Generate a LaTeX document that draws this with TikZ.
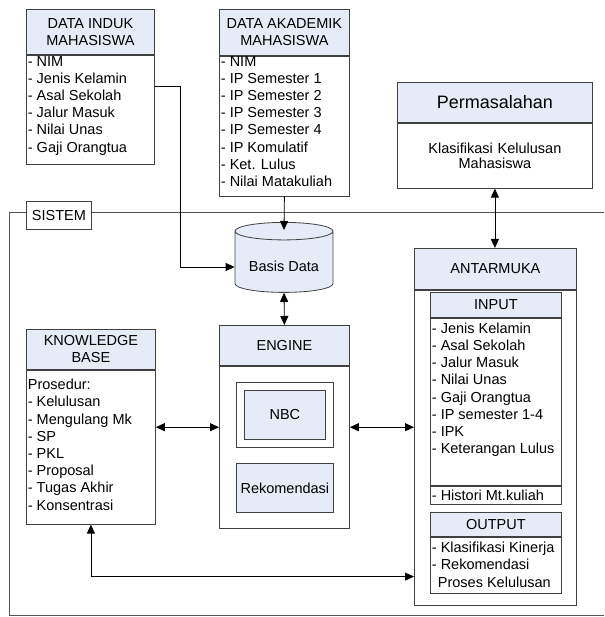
\documentclass[tikz,border=0pt]{standalone}
\usepackage{fontspec}
\setmainfont{Liberation Sans}
\usetikzlibrary{shapes,arrows.meta,positioning,calc}
\definecolor{hdrblue}{RGB}{230,236,247}
\definecolor{boxgray}{RGB}{64,64,64}
\definecolor{linegray}{RGB}{85,85,85}
\newcommand{\boxlist}[4]{\parbox[t][#1][t]{#2}{\vspace*{#3}#4}}
\tikzset{
  hdr/.style={draw=boxgray,fill=hdrblue,align=center,inner sep=0pt,anchor=north west,line width=0.8pt},
  lst/.style={draw=boxgray,fill=white,inner xsep=1.5pt,inner ysep=0pt,anchor=north west,line width=0.8pt},
  conn/.style={-{Triangle[length=9pt,width=8pt]},line width=0.8pt},
  dconn/.style={{Triangle[length=9pt,width=8pt]}-{Triangle[length=9pt,width=8pt]},line width=0.8pt},
  sysline/.style={draw=linegray,line width=0.8pt}
}
\begin{document}
\begin{tikzpicture}[x=1pt,y=-1pt,font=\fontsize{14.5pt}{17.2pt}\selectfont]
\useasboundingbox (0,0) rectangle (604,617);
% batas sistem
\draw[sysline] (604,212) -- (9,212) -- (9,615) -- (604,615);
\node[lst,inner sep=0pt,minimum width=65pt,minimum height=28pt] (sistem) at (26,201) {SISTEM};
% sumber data
\node[hdr,minimum width=128pt,minimum height=45pt] (diHead) at (26,9) {DATA INDUK\\MAHASISWA};
\node[lst] (diBody) at (diHead.south west) {\boxlist{109pt}{125pt}{1pt}{- NIM\\- Jenis Kelamin\\- Asal Sekolah\\- Jalur Masuk\\- Nilai Unas\\- Gaji Orangtua}};
\node[hdr,minimum width=130pt,minimum height=46pt] (daHead) at (219,9) {DATA AKADEMIK\\MAHASISWA};
\node[lst] (daBody) at (daHead.south west) {\boxlist{140pt}{127pt}{0pt}{- NIM\\- IP Semester 1\\- IP Semester 2\\- IP Semester 3\\- IP Semester 4\\- IP Komulatif\\- Ket. Lulus\\- Nilai Matakuliah}};
% permasalahan
\node[hdr,minimum width=195pt,minimum height=40pt,font=\fontsize{18pt}{21pt}\selectfont] (pmHead) at (397,82) {Permasalahan};
\node[lst,align=center,text width=192pt,minimum height=65pt,font=\fontsize{14.5pt}{15.6pt}\selectfont] (pmBody) at (pmHead.south west) {Klasifikasi Kelulusan\\Mahasiswa};
% basis data
\node[cylinder,shape border rotate=90,aspect=0.25,draw=boxgray,fill=hdrblue,line width=0.8pt,minimum width=98pt,minimum height=70pt,inner sep=0pt,anchor=north] (db) at (284,222) {\raisebox{0pt}[20pt][0pt]{Basis Data}};
% knowledge base
\node[hdr,minimum width=129pt,minimum height=40pt] (kbHead) at (26,329) {KNOWLEDGE\\BASE};
\node[lst] (kbBody) at (kbHead.south west) {\boxlist{154pt}{126pt}{9pt}{Prosedur:\\- Kelulusan\\- Mengulang Mk\\- SP\\- PKL\\- Proposal\\- Tugas Akhir\\- Konsentrasi}};
% engine
\node[hdr,minimum width=130pt,minimum height=40pt] (enHead) at (219,325) {ENGINE};
\node[lst,inner sep=0pt,minimum width=130pt,minimum height=162pt] (enBody) at (enHead.south west) {};
\node[lst,inner sep=0pt,minimum width=97pt,minimum height=65pt] (nbcOuter) at (236,382) {};
\node[hdr,anchor=center,minimum width=81pt,minimum height=49pt] (nbc) at (nbcOuter.center) {NBC};
\node[hdr,minimum width=97pt,minimum height=49pt] (rekom) at (236,463) {Rekomendasi};
% antarmuka
\node[hdr,minimum width=162pt,minimum height=41pt] (amHead) at (414,248) {ANTARMUKA};
\node[lst,inner sep=0pt,minimum width=162pt,minimum height=315pt] (amBody) at (amHead.south west) {};
\node[hdr,minimum width=131pt,minimum height=25pt] (inHead) at (430,292) {INPUT};
\node[lst] (inList) at (inHead.south west) {\boxlist{167pt}{128pt}{4.5pt}{- Jenis Kelamin\\- Asal Sekolah\\- Jalur Masuk\\- Nilai Unas\\- Gaji Orangtua\\- IP semester 1-4\\- IPK\\- Keterangan Lulus}};
\node[lst] (inHist) at (inList.south west) {\boxlist{18pt}{128pt}{3.5pt}{- Histori Mt.kuliah}};
\node[hdr,minimum width=131pt,minimum height=24pt] (outHead) at (430,512) {OUTPUT};
\node[lst] (outList) at (outHead.south west) {\boxlist{56pt}{128pt}{5pt}{- Klasifikasi Kinerja\\- Rekomendasi\\\hspace*{6pt}Proses Kelulusan}};
% alur data
\draw[conn] ([yshift=-32pt]diBody.north east) -- ++(26,0) |- ([yshift=-5pt]db.west);
\draw[conn] (daBody.south) -- ([yshift=-8pt]db.north);
\draw[dconn] (db.south) -- (enHead.north);
\draw[dconn] (pmBody.south) -- (pmBody.south |- amHead.north);
\draw[dconn] ([yshift=20pt]kbBody.east) -- ([yshift=20pt]kbBody.east -| enBody.west);
\draw[dconn] ([yshift=20pt]enBody.east) -- ([yshift=20pt]enBody.east -| amBody.west);
\draw[dconn] (kbBody.south) -- ++(0,52) coordinate (kbTurn) -- (kbTurn -| amBody.west);
\end{tikzpicture}
\end{document}
